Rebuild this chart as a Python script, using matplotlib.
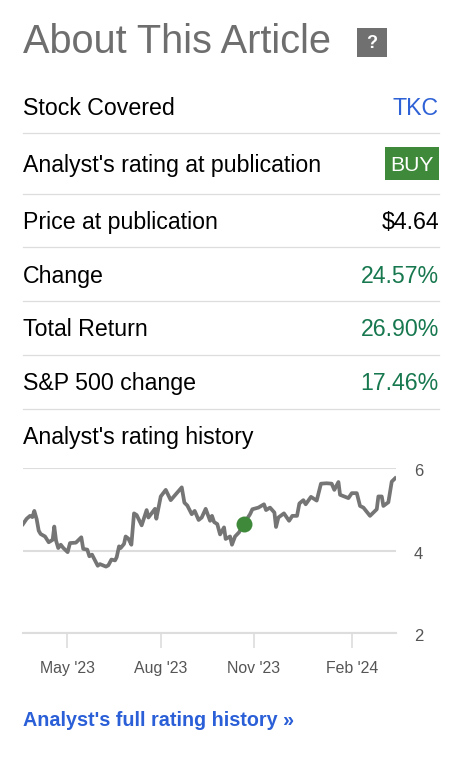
import matplotlib
matplotlib.use('Agg')
import matplotlib.pyplot as plt
from matplotlib.patches import Rectangle
from matplotlib.transforms import ScaledTranslation

plt.rcParams['font.family'] = ['Liberation Sans', 'DejaVu Sans']

# table rows
row_labels = ['Stock Covered', "Analyst's rating at publication", 'Price at publication',
              'Change', 'Total Return', 'S&P 500 change']
row_values = ['TKC', 'BUY', '$4.64', '24.57%', '26.90%', '17.46%']
row_colors = ['#2f62d6', '#ffffff', '#000000', '#17784f', '#17784f', '#17784f']

# price history, x is trading session since the start of the chart
sessions = [0, 2.5, 4.8, 6.4, 7.7, 9.3, 10.7, 12, 15, 17.5, 20.2, 21.3, 22.5, 24, 25.7, 27.5,
            30.4, 32, 36, 39.7, 41, 43.8, 45.2, 47, 50.9, 52.4, 56.5, 58.1, 60.2, 62.7, 63.8,
            65.4, 66.5, 68.8, 69.9, 71.7, 73.8, 75.6, 77.4, 80.8, 84.2, 85.4, 89.9, 90.8, 93.8,
            97.2, 100.6, 104.7, 108.1, 109.9, 111.9, 114.9, 116.9, 119.6, 121.7, 124.4, 127.4,
            128.7, 130.1, 132.3, 134.2, 136.9, 138, 141, 142.3, 144.4, 147.1, 150.5, 154.6,
            156.2, 160.3, 164.1, 165.5, 168.2, 171.2, 172.3, 173.9, 177.7, 181.2, 183.4, 186.6,
            188.2, 190.9, 192.5, 196.1, 200, 202.9, 206.8, 210.2, 212, 214.8, 215.9, 221.6,
            223.9, 227.3, 229.5, 231.8, 236.3, 240.9, 242, 244.3, 245.4, 248.8, 251.1, 253.4]
prices = [4.64, 4.77, 4.84, 4.81, 4.96, 4.76, 4.48, 4.40, 4.34, 4.20, 4.26, 4.58, 4.24, 4.06, 4.14, 4.06,
          3.96, 4.18, 4.19, 4.32, 4.04, 4.02, 3.86, 3.90, 3.63, 3.67, 3.61, 3.64, 3.78, 3.76, 3.84,
          4.10, 4.06, 4.16, 4.34, 4.29, 4.14, 4.90, 4.86, 4.61, 4.98, 4.80, 5.01, 4.77, 5.31,
          5.47, 5.22, 5.39, 5.53, 5.16, 5.09, 4.88, 4.96, 4.74, 4.80, 5.01, 4.72,
          4.84, 4.69, 4.64, 4.39, 4.56, 4.28, 4.34, 4.14, 4.34, 4.44, 4.65, 4.88,
          5.00, 5.04, 5.12, 4.98, 5.04, 4.92, 4.57, 4.80, 4.90, 4.72, 4.84, 4.84,
          5.14, 5.22, 5.12, 5.30, 5.21, 5.62, 5.63, 5.62, 5.47, 5.66, 5.35, 5.27,
          5.39, 5.39, 5.08, 5.04, 4.84, 5.00, 5.31, 5.31, 5.08, 5.17, 5.67, 5.75]

pub_session = 150.5
pub_price = 4.64
tick_sessions = [30, 94, 157, 224]
tick_labels = ["May '23", "Aug '23", "Nov '23", "Feb '24"]
y_ticks = [2, 4, 6]

W, H = 470, 763
fig = plt.figure(figsize=(W / 100, H / 100), dpi=100)

# whole figure axes in pixels for the text block
bg = fig.add_axes([0, 0, 1, 1])
bg.set_xlim(0, W)
bg.set_ylim(H, 0)
bg.axis('off')

bg.text(23, 53, 'About This Article', fontsize=28.6, color='#6e6e6e', va='baseline', ha='left')
bg.add_patch(Rectangle((357, 28), 30, 29, color='#707070', lw=0))
bg.text(372, 48, '?', fontsize=13, color='white', weight='bold', va='baseline', ha='center')

baseline_y = [115, 172, 229, 283, 336, 390]
line_y = [133, 194, 247, 301, 355, 409]
bg.add_patch(Rectangle((385, 147), 54, 33, color='#3f8a3a', lw=0))
for i in range(len(row_labels)):
    bg.text(23, baseline_y[i], row_labels[i], fontsize=16.7, color='black', va='baseline', ha='left')
    if row_values[i] == 'BUY':
        bg.text(412, baseline_y[i] - 1, row_values[i], fontsize=15.2, color=row_colors[i], va='baseline', ha='center')
    else:
        bg.text(439, baseline_y[i], row_values[i], fontsize=16.7, color=row_colors[i], va='baseline', ha='right')
    bg.plot([23, 439], [line_y[i], line_y[i]], color='#dddddd', lw=0.9)

bg.text(23, 444, "Analyst's rating history", fontsize=16.7, color='black', va='baseline', ha='left')
bg.text(23, 726, "Analyst's full rating history »", fontsize=14.25, color='#2a5fd8', weight='bold',
        va='baseline', ha='left')

# chart
ax = fig.add_axes([23 / W, 1 - 633 / H, (396 - 23) / W, (633 - 468) / H])
ax.patch.set_alpha(0)
ax.plot(sessions, prices, color='#757575', lw=2.7, solid_joinstyle='round', zorder=3)
ax.plot([pub_session], [pub_price], 'o', color='#3f8a3a', ms=11.5, mew=0, zorder=4)
ax.set_xlim(0, 254)
ax.set_ylim(2, 6)
ax.set_yticks(y_ticks)
ax.set_xticks(tick_sessions)
ax.set_xticklabels(tick_labels, fontsize=11.4, color='#555555')
ax.yaxis.tick_right()
ax.tick_params(axis='y', length=0, pad=13, labelsize=12, labelcolor='#555555')
ax.tick_params(axis='x', length=11, width=1.2, color='#dddddd', pad=9)
ax.grid(axis='y', color='#dddddd', lw=1.5, zorder=1)
for s in ['top', 'left', 'right']:
    ax.spines[s].set_visible(False)
ax.spines['bottom'].set_color('#dddddd')
ax.spines['bottom'].set_linewidth(1.5)
# labels sit a little below their grid lines
shift = ScaledTranslation(0, -1.5 / 72, fig.dpi_scale_trans)
for t in ax.get_yticklabels():
    t.set_transform(t.get_transform() + shift)

fig.savefig('out.png', dpi=100)
